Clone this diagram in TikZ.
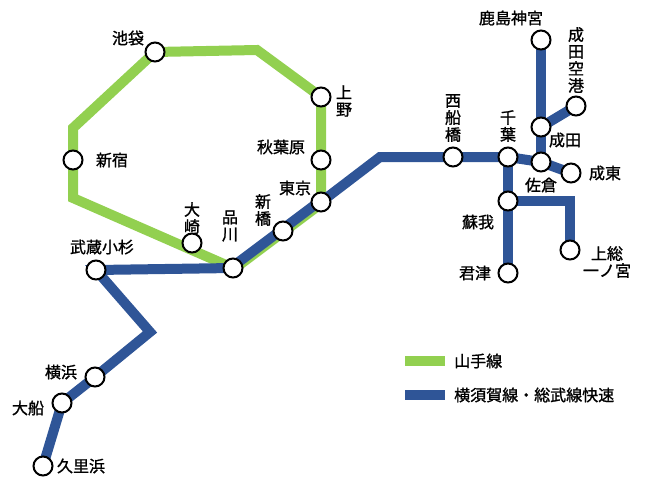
\documentclass[tikz,border=0pt]{standalone}
\usepackage{fontspec}
\setmainfont[FakeBold=1.2]{Noto Sans CJK JP}
\usetikzlibrary{positioning}
\definecolor{yamanote}{RGB}{146,208,80}
\definecolor{sobu}{RGB}{47,85,151}
\tikzset{
	eki/.style={circle,draw=black,line width=2pt,fill=white,inner sep=0pt,minimum size=19pt},
	lbl/.style={font=\fontsize{16}{17}\selectfont,inner sep=1pt,align=center},
	yline/.style={draw=yamanote,line width=10pt,line join=miter},
	bline/.style={draw=sobu,line width=10pt,line join=miter},
}
\begin{document}
\begin{tikzpicture}[x=1pt,y=-1pt]
	\useasboundingbox (0,0) rectangle (652,493);
	% corners of the tracks
	\coordinate (gNE) at (257,50);
	\coordinate (gW) at (73,128);
	\coordinate (gSW) at (73,198);
	\coordinate (bA) at (380,157);
	\coordinate (bB) at (150,332);
	\coordinate (bC) at (570,201);
	\coordinate (Ikebukuro) at (155,52);
	\coordinate (Ueno) at (321,97);
	\coordinate (Akihabara) at (321,160);
	\coordinate (Tokyo) at (321,202);
	\coordinate (Shimbashi) at (283,231);
	\coordinate (Shinagawa) at (233,268);
	\coordinate (Osaki) at (192,243);
	\coordinate (Shinjuku) at (73,160);
	\coordinate (Kosugi) at (96,270);
	\coordinate (Yokohama) at (95,377);
	\coordinate (Ofuna) at (62,403);
	\coordinate (Kurihama) at (43,466);
	\coordinate (NishiFunabashi) at (453,157);
	\coordinate (Chiba) at (508,157);
	\coordinate (Sakura) at (541,162);
	\coordinate (Naruto) at (571,173);
	\coordinate (Narita) at (541,127);
	\coordinate (Airport) at (576,106);
	\coordinate (Kashima) at (541,40);
	\coordinate (Soga) at (508,201);
	\coordinate (Kimitsu) at (508,273);
	\coordinate (Kazusa) at (570,250);

	% Yamanote line
	\draw[yline] (Tokyo) -- (Ueno) -- (gNE) -- (Ikebukuro) -- (gW) -- (gSW) -- (Shinagawa);
	\draw[yline,transform canvas={shift={(-3pt,-4pt)}}] (Shinagawa) -- (Tokyo);
	% Yokosuka / Sobu line
	\draw[bline] (Kurihama) -- (Ofuna) -- (Yokohama) -- (bB) -- (Kosugi) -- (Shinagawa);
	\draw[bline,transform canvas={shift={(3pt,4pt)}}] (Shinagawa) -- (Tokyo);
	\draw[bline] (Tokyo) -- (bA) -- (Chiba) -- (Sakura) -- (Naruto);
	\draw[bline] (Sakura) -- (Narita) -- (Kashima);
	\draw[bline] (Narita) -- (Airport);
	\draw[bline] (Chiba) -- (Kimitsu);
	\draw[bline] (Soga) -- (bC) -- (Kazusa);

	% stations
	\foreach \s in {Ikebukuro,Ueno,Akihabara,Tokyo,Shimbashi,Shinagawa,Osaki,Shinjuku,Kosugi,Yokohama,Ofuna,Kurihama,NishiFunabashi,Chiba,Sakura,Naruto,Narita,Airport,Kashima,Soga,Kimitsu,Kazusa}
		\node[eki] (st-\s) at (\s) {};

	% names
	\node[lbl] (n-Ikebukuro) at (128,38) {池袋};
	\node[lbl] (n-Ueno) at (344,101) {上\\野};
	\node[lbl] (n-Akihabara) at (281,147) {秋葉原};
	\node[lbl] (n-Tokyo) at (295,188) {東京};
	\node[lbl] (n-Shimbashi) at (263,210) {新\\橋};
	\node[lbl] (n-Shinagawa) at (230,226) {品\\川};
	\node[lbl] (n-Osaki) at (192,218) {大\\崎};
	\node[lbl] (n-Shinjuku) at (112,160) {新宿};
	\node[lbl] (n-Kosugi) at (102,247) {武蔵小杉};
	\node[lbl] (n-Yokohama) at (61,372) {横浜};
	\node[lbl] (n-Ofuna) at (28,408) {大船};
	\node[lbl] (n-Kurihama) at (81,466) {久里浜};
	\node[lbl] (n-NishiFunabashi) at (453,118) {西\\船\\橋};
	\node[lbl] (n-Chiba) at (508,126) {千\\葉};
	\node[lbl] (n-Kashima) at (511,18) {鹿島神宮};
	\node[lbl] (n-Airport) at (576,60) {成\\田\\空\\港};
	\node[lbl] (n-Narita) at (565,140) {成田};
	\node[lbl] (n-Sakura) at (541,185) {佐倉};
	\node[lbl] (n-Naruto) at (605,173) {成東};
	\node[lbl] (n-Soga) at (478,222) {蘇我};
	\node[lbl] (n-Kimitsu) at (475,273) {君津};
	\node[lbl] (n-Kazusa) at (607,262) {上総\\一ノ宮};

	% legend
	\coordinate (lgA) at (405,361);
	\coordinate (lgB) at (445,361);
	\coordinate (lbA) at (405,395);
	\coordinate (lbB) at (445,395);
	\draw[yline] (lgA) -- (lgB);
	\draw[bline] (lbA) -- (lbB);
	\node[lbl,anchor=west] (lg-yamanote) at (453,361) {山手線};
	\node[lbl,anchor=west] (lg-sobu) at (453,395) {横須賀線・総武線快速};
\end{tikzpicture}
\end{document}
